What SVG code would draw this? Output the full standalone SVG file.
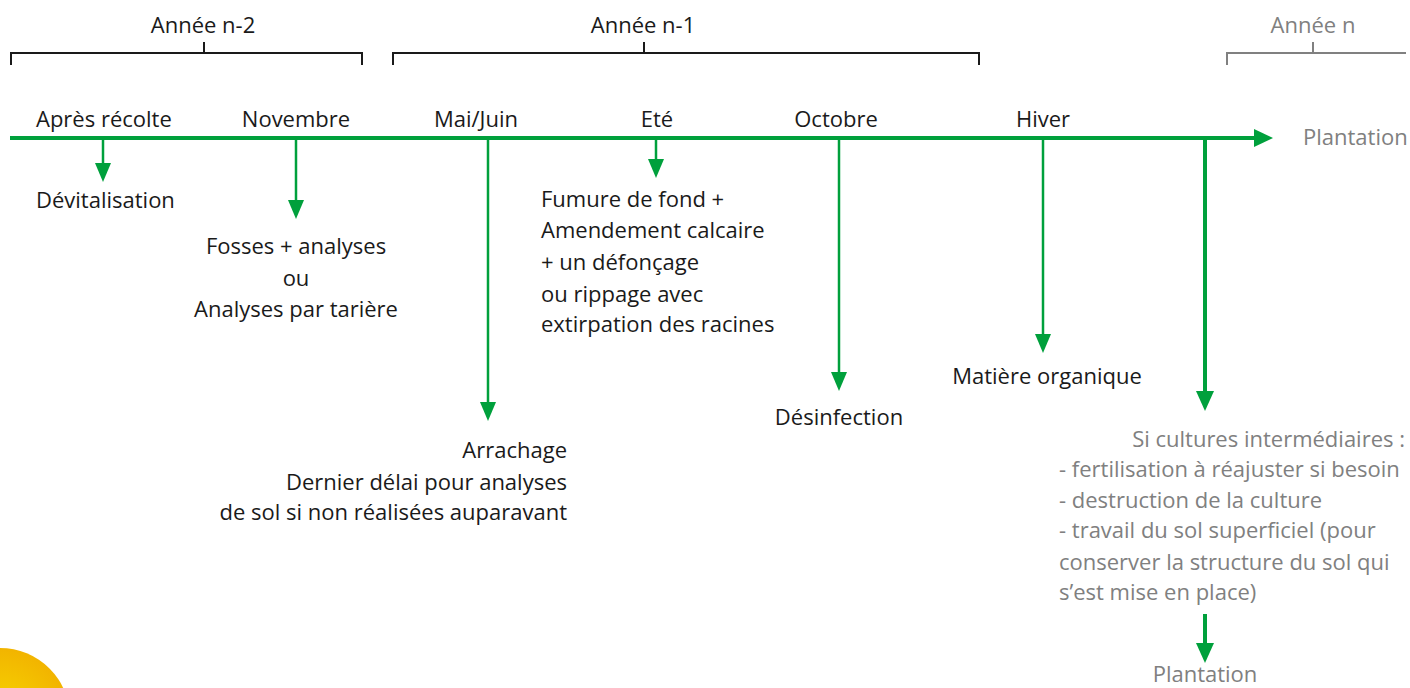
<svg xmlns="http://www.w3.org/2000/svg" width="1410" height="688" viewBox="0 0 1410 688">
<defs>
<style>
text{font-family:"Open Sans","Noto Sans","Liberation Sans",sans-serif;font-size:22px;fill:#1a1a1a}
.g{fill:#808080}
.m{text-anchor:middle}
.e{text-anchor:end}
.br{fill:none;stroke:#1a1a1a;stroke-width:2}
.brg{fill:none;stroke:#808080;stroke-width:2}
.ln{stroke:#00a03c;stroke-width:2.5;fill:none}
.thick{stroke:#00a03c;stroke-width:4;fill:none}
.ah{fill:#00a03c}
</style>
<radialGradient id="sun" cx="0" cy="718" r="70" gradientUnits="userSpaceOnUse">
<stop offset="0" stop-color="#f7d800"/>
<stop offset="1" stop-color="#f2b400"/>
</radialGradient>
</defs>
<rect width="1410" height="688" fill="#ffffff"/>
<circle cx="0" cy="718" r="70" fill="url(#sun)"/>

<g id="years">
<text class="m" x="203" y="33">Année n-2</text>
<path class="br" d="M11 65V53H362V65M204 53V42"/>
<text class="m" x="643" y="33">Année n-1</text>
<path class="br" d="M393 65V53H979V65M644 53V42"/>
<text class="m g" x="1313" y="33">Année n</text>
<path class="brg" d="M1227 65V53H1406M1313 53V42"/>
</g>

<g id="connectors">
<path class="thick" d="M10 138H1256"/>
<path class="ah" d="M1254 129L1273 138L1254 147Z"/>
<path class="ln" d="M103 140V165"/>
<path class="ah" d="M95 163H111L103 182Z"/>
<path class="ln" d="M296 140V201"/>
<path class="ah" d="M288 200H304L296 219Z"/>
<path class="ln" d="M488 140V403"/>
<path class="ah" d="M480 402H496L488 421Z"/>
<path class="ln" d="M656 140V161"/>
<path class="ah" d="M648 159H664L656 178Z"/>
<path class="ln" d="M839 140V373"/>
<path class="ah" d="M831 372H847L839 391Z"/>
<path class="ln" d="M1043 140V335"/>
<path class="ah" d="M1035 334H1051L1043 353Z"/>
<path class="thick" d="M1205 140V393"/>
<path class="ah" d="M1196 391H1214L1205 411Z"/>
<path class="thick" d="M1205 614V644"/>
<path class="ah" d="M1196 643H1214L1205 663Z"/>
</g>

<g id="timeline-labels">
<text x="36" y="127">Après récolte</text>
<text class="m" x="296" y="127">Novembre</text>
<text class="m" x="476" y="127">Mai/Juin</text>
<text class="m" x="657" y="127">Eté</text>
<text class="m" x="836" y="127">Octobre</text>
<text class="m" x="1043" y="127">Hiver</text>
<text class="g" x="1303" y="145">Plantation</text>
</g>

<g id="devitalisation"><text x="36" y="208">Dévitalisation</text></g>
<g id="fosses">
<text class="m" x="296" y="254">Fosses + analyses</text>
<text class="m" x="296" y="286">ou</text>
<text class="m" x="296" y="317">Analyses par tarière</text>
</g>
<g id="fumure">
<text x="541" y="207">Fumure de fond +</text>
<text x="541" y="238">Amendement calcaire</text>
<text x="541" y="270">+ un défonçage</text>
<text x="541" y="302">ou rippage avec</text>
<text x="541" y="332">extirpation des racines</text>
</g>
<g id="arrachage">
<text class="e" x="567" y="458">Arrachage</text>
<text class="e" x="567" y="490">Dernier délai pour analyses</text>
<text class="e" x="567" y="520">de sol si non réalisées auparavant</text>
</g>
<g id="desinfection"><text class="m" x="839" y="425">Désinfection</text></g>
<g id="matiere"><text class="m" x="1047" y="384">Matière organique</text></g>
<g id="cultures">
<text class="g e" x="1405" y="447">Si cultures intermédiaires :</text>
<text class="g" x="1059" y="477">- fertilisation à réajuster si besoin</text>
<text class="g" x="1059" y="508">- destruction de la culture</text>
<text class="g" x="1059" y="538">- travail du sol superficiel (pour</text>
<text class="g" x="1059" y="570">conserver la structure du sol qui</text>
<text class="g" x="1059" y="600">s’est mise en place)</text>
</g>
<g id="plantation-bottom"><text class="m g" x="1205" y="682">Plantation</text></g>
</svg>
